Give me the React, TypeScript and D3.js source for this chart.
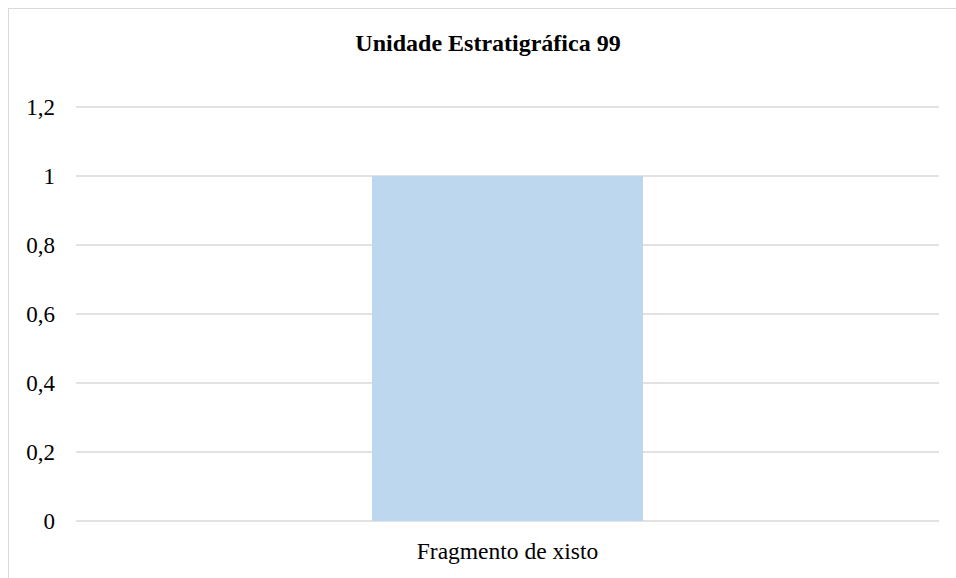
import React from "react";
import * as d3 from "d3";

const categories = ["Fragmento de xisto"];
const values = [1];
const yTicks = [0, 0.2, 0.4, 0.6, 0.8, 1, 1.2];
const title = "Unidade Estratigráfica 99";

const W = 956;
const H = 578;
const plot = { left: 76, right: 939, top: 107, bottom: 521 };

export default function App() {
  const x = d3
    .scaleBand<string>()
    .domain(categories)
    .range([plot.left, plot.right])
    .paddingInner(0.686)
    .paddingOuter(0.343);
  const y = d3.scaleLinear().domain([0, 1.2]).range([plot.bottom, plot.top]);
  const fmt = (v: number) => String(+v.toFixed(1)).replace(".", ",");
  const font = "Liberation Serif, Tinos, Times New Roman, DejaVu Serif, serif";
  return (
    <svg
      width={W}
      height={H}
      style={{ position: "absolute", left: 0, top: 0, background: "#fff", fontFamily: font }}
    >
      <rect x={8.5} y={8.5} width={1000} height={1000} fill="#fff" stroke="#d9d9d9" strokeWidth={1} />
      <text x={488} y={51} textAnchor="middle" style={{ fontFamily: font }} fontWeight="bold" fontSize={24} fill="#000">
        {title}
      </text>
      {yTicks.map((t) => (
        <g key={t}>
          <line x1={plot.left} x2={plot.right} y1={y(t)} y2={y(t)} stroke="#d9d9d9" strokeWidth={1.3} />
          <text x={55} y={y(t)} dy="0.33em" textAnchor="end" style={{ fontFamily: font }} fontSize={23} fill="#000">
            {fmt(t)}
          </text>
        </g>
      ))}
      {categories.map((c, i) => (
        <rect
          key={c}
          x={x(c)}
          y={y(values[i])}
          width={x.bandwidth()}
          height={y(0) - y(values[i])}
          fill="#bdd7ee"
        />
      ))}
      {categories.map((c) => (
        <text
          key={c}
          x={(x(c) as number) + x.bandwidth() / 2}
          y={559}
          textAnchor="middle"
          style={{ fontFamily: font }}
          fontSize={23.5}
          fill="#000"
        >
          {c}
        </text>
      ))}
    </svg>
  );
}
